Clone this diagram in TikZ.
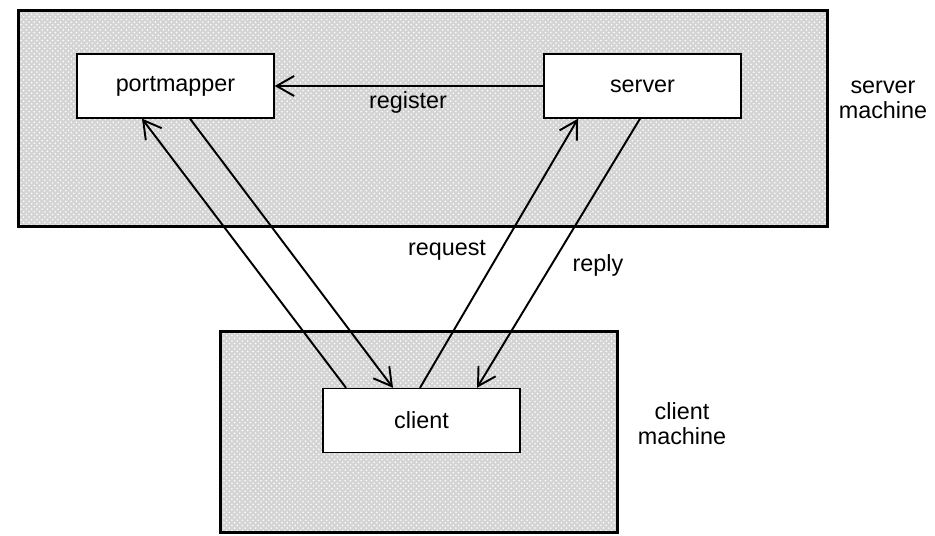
\documentclass[tikz,border=0pt]{standalone}
\usepackage{fontspec}
\setmainfont{Liberation Sans}
\usetikzlibrary{arrows.meta,patterns}

\begin{document}
\begin{tikzpicture}[x=0.02cm, y=-0.02cm,
    machine/.style={draw, line width=1.7pt, preaction={fill=black!17},
      pattern=crosshatch dots, pattern color=white},
    proc/.style={draw, line width=0.8pt, fill=white, minimum width=3.94cm,
      minimum height=1.28cm, font=\fontsize{13.3}{15}\selectfont},
    lbl/.style={font=\fontsize{13.3}{14.2}\selectfont, align=center},
    >={Straight Barb[length=3.5mm, width=4mm]}, line width=1.1pt]
    \useasboundingbox (0,0) rectangle (935,536);

    % Machines
    \node[machine, minimum width=16.19cm, minimum height=4.34cm] (SM) at (423.3,118.5) {};
    \node[machine, minimum width=7.93cm, minimum height=4.04cm] (CM) at (418.8,432) {};

    % Processes
    \node[proc] (PM) at (175.5,86) {portmapper};
    \node[proc] (SV) at (642.5,86) {server};
    \node[proc] (CL) at (421.5,420.5) {client};

    % Labels
    \node[lbl] (reg) at (408,102) {register};
    \node[lbl] (req) at (447,250) {request};
    \node[lbl] (rep) at (598,265) {reply};
    \node[lbl] (SMlbl) at (883,100) {server\\machine};
    \node[lbl] (CMlbl) at (682,424) {client\\machine};

    % Arrows
    \draw[->] (SV.west) -- (PM.east);
    \draw[->] ([xshift=-1.51cm]CL.north) -- ([xshift=-0.67cm]PM.south);
    \draw[->] ([xshift=0.29cm]PM.south) -- ([xshift=-0.57cm]CL.north);
    \draw[->] ([xshift=-0.03cm]CL.north) -- ([xshift=-1.29cm]SV.south);
    \draw[->] ([xshift=-0.05cm]SV.south) -- ([xshift=1.11cm]CL.north);
\end{tikzpicture}
\end{document}
